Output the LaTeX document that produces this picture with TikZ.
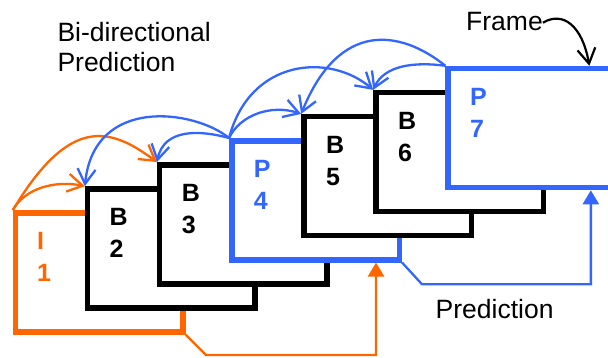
\documentclass[tikz,border=0pt]{standalone}
\usepackage{fontspec}
\setmainfont{Liberation Sans}
\usetikzlibrary{arrows.meta,calc}
\definecolor{pblue}{RGB}{51,102,255}
\definecolor{porange}{RGB}{255,102,0}
\begin{document}
\begin{tikzpicture}[x=1pt,y=-1pt,
  framebox/.style={draw, line width=5.5pt, fill=white, minimum width=167.5pt, minimum height=119pt, inner sep=0pt},
  lab/.style={anchor=base west, inner sep=0pt, font=\fontsize{25}{30}\selectfont\bfseries},
  txt/.style={anchor=base west, inner sep=0pt, font=\fontsize{26.5}{30}\selectfont},
  curv/.style={line width=2.3pt, -{Straight Barb[length=15pt,width=18pt]}},
  feed/.style={line width=2.3pt, -{Triangle[length=14pt,width=16pt]}}
]
\useasboundingbox (0,0) rectangle (608,358);
% frames
\node[framebox, draw=porange] (f1) at (99.25,272.5) {};
\node[framebox] (f2) at (171.35,248.42) {};
\node[framebox] (f3) at (243.45,224.34) {};
\node[framebox, draw=pblue] (f4) at (315.55,200.26) {};
\node[framebox] (f5) at (387.65,176.18) {};
\node[framebox] (f6) at (459.75,152.10) {};
\node[framebox, draw=pblue] (f7) at (531.85,128.02) {};
% labels
\node[lab, porange] (l1a) at (37,250) {I};
\node[lab, porange] (l1b) at (37,282) {1};
\node[lab] (l2a) at (109.5,226) {B};
\node[lab] (l2b) at (109.5,258) {2};
\node[lab] (l3a) at (181.6,202) {B};
\node[lab] (l3b) at (181.6,234) {3};
\node[lab, pblue] (l4a) at (253.7,178) {P};
\node[lab, pblue] (l4b) at (253.7,210) {4};
\node[lab] (l5a) at (325.8,154) {B};
\node[lab] (l5b) at (325.8,186) {5};
\node[lab] (l6a) at (397.9,130) {B};
\node[lab] (l6b) at (397.9,162) {6};
\node[lab, pblue] (l7a) at (470,105.5) {P};
\node[lab, pblue] (l7b) at (470,137.5) {7};
% texts
\node[txt] (bi1) at (57.3,41.7) {Bi-directional};
\node[txt] (bi2) at (57.3,71.7) {Prediction};
\node[txt] (frm) at (466,30.7) {Frame};
\node[txt] (pred) at (435.5,318.3) {Prediction};
% orange curves
\draw[curv, porange] (f1.north west) .. controls +(12,-22) and +(-30,-6) .. (f2.north west);
\draw[curv, porange] (f1.north west) .. controls +(57,-95) and +(-47,-35) .. (f3.north west);
% blue curves
\draw[curv, pblue] (f4.north west) .. controls +(-34,-28) and +(9,-91) .. (f2.north west);
\draw[curv, pblue] (f4.north west) .. controls +(-29,-8) and +(7,-34) .. (f3.north west);
\draw[curv, pblue] (f4.north west) .. controls +(11,-23) and +(-30,-10) .. (f5.north west);
\draw[curv, pblue] (f4.north west) .. controls +(21,-80) and +(-43,-37) .. (f6.north west);
\draw[curv, pblue] (f7.north west) .. controls +(-45,-36) and +(38,-94) .. (f5.north west);
\draw[curv, pblue] (f7.north west) .. controls +(-30,-4) and +(11,-25) .. (f6.north west);
% frame pointer
\coordinate (ftip) at ($(f7.north west)+(144,0)$);
\draw[curv, line width=2.2pt] (frm.base east) ++(0,-8) .. controls +(20,-12) and +(-7,-40) .. (ftip);
% feedback connectors
\coordinate (t4) at ($(f4.south west)+(147,0)$);
\coordinate (t7) at ($(f7.south west)+(145.5,0)$);
\draw[feed, porange] (f1.south east) -- (206,355) -| (t4);
\draw[feed, pblue] (f4.south east) -- (422,284.3) -| (t7);
\end{tikzpicture}
\end{document}
